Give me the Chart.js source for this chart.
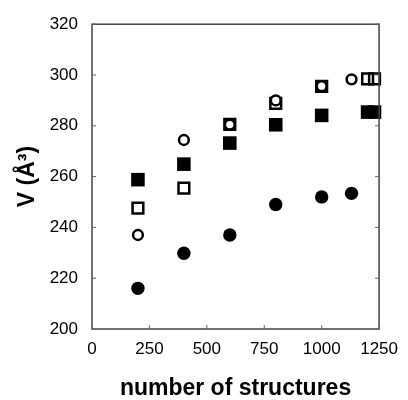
<!DOCTYPE html>
<html>
<head>
<meta charset="utf-8">
<script src="https://cdn.jsdelivr.net/npm/chart.js@4"></script>
<style>
  html, body { margin: 0; padding: 0; background: #fff; }
  #wrap { width: 408px; height: 400px; }
</style>
</head>
<body>
<div id="wrap"><canvas id="my-chart"></canvas></div>
<script>
// values
const filledCircleX = [200, 400, 600, 800, 1000, 1130]
const filledCircleY = [216, 229.8, 237, 249, 252, 253.4]

const openCircleX = [200, 400, 600, 800, 1000, 1130]
const openCircleY = [237, 274.4, 280.5, 290, 295.6, 298.3]

const filledSquareX = [200, 400, 600, 800, 1000, 1200, 1230]
const filledSquareY = [258.8, 264.9, 273.2, 280.4, 284.1, 285.4, 285.4]

const openSquareX = [200, 400, 600, 800, 1000, 1200, 1230]
const openSquareY = [247.6, 255.5, 280.6, 288.8, 295.5, 298.5, 298.5]

const xTicks = [0, 250, 500, 750, 1000, 1250]
const yTicks = [200, 220, 240, 260, 280, 300, 320]

const toPoints = (xs, ys) => xs.map((x, i) => ({ x: x, y: ys[i] }))

// box round the plot plus small inward ticks
const frame = {
  id: 'frame',
  afterDraw(chart) {
    const { ctx, chartArea: a, scales } = chart
    ctx.save()
    ctx.strokeStyle = '#444'
    ctx.lineWidth = 1.5
    ctx.strokeRect(a.left, a.top, a.right - a.left, a.bottom - a.top)
    ctx.lineWidth = 1
    ctx.strokeStyle = '#666'
    ctx.beginPath()
    yTicks.forEach(v => {
      const y = scales.y.getPixelForValue(v)
      ctx.moveTo(a.left, y); ctx.lineTo(a.left + 4, y)
      ctx.moveTo(a.right, y); ctx.lineTo(a.right - 4, y)
    })
    xTicks.forEach(v => {
      const x = scales.x.getPixelForValue(v)
      ctx.moveTo(x, a.bottom); ctx.lineTo(x, a.bottom - 4)
    })
    ctx.stroke()
    ctx.restore()
  }
}

const data = {
  datasets: [{
    label: 'filled circles',
    data: toPoints(filledCircleX, filledCircleY),
    pointStyle: 'circle',
    pointRadius: 6.7,
    borderWidth: 0,
    backgroundColor: '#000',
    borderColor: '#000',
  }, {
    label: 'open circles',
    data: toPoints(openCircleX, openCircleY),
    pointStyle: 'circle',
    pointRadius: 4.9,
    borderWidth: 2.5,
    backgroundColor: '#fff',
    borderColor: '#000',
  }, {
    label: 'filled squares',
    data: toPoints(filledSquareX, filledSquareY),
    pointStyle: 'rect',
    pointRadius: 9.6,
    borderWidth: 0,
    backgroundColor: '#000',
    borderColor: '#000',
  }, {
    label: 'open squares',
    data: toPoints(openSquareX, openSquareY),
    pointStyle: 'rect',
    pointRadius: 7.6,
    borderWidth: 2.5,
    backgroundColor: 'rgba(255,255,255,0)',
    borderColor: '#000',
  }]
}

const tickFont = { family: 'Liberation Sans', size: 17 }
const titleFont = { family: 'Liberation Sans', size: 23, weight: 'bold', lineHeight: 1 }

const options = {
  responsive: true,
  maintainAspectRatio: false,
  animation: false,
  layout: { padding: { top: 22, right: 21, left: 0, bottom: 0 } },
  plugins: {
    legend: { display: false },
    tooltip: { enabled: false },
  },
  datasets: { scatter: { clip: false } },
  scales: {
    x: {
      type: 'linear',
      min: 0,
      max: 1250,
      grid: { display: false, drawTicks: false },
      border: { display: false },
      ticks: {
        stepSize: 250,
        color: '#000',
        font: tickFont,
        padding: 10,
        maxRotation: 0,
        callback: (value) => String(value),
      },
      title: {
        display: true,
        text: 'number of structures',
        color: '#000',
        font: titleFont,
        padding: 0,
      },
      afterFit: (scale) => { scale.height = 71 },
    },
    y: {
      type: 'linear',
      min: 200,
      max: 320,
      grid: { display: false, drawTicks: false },
      border: { display: false },
      ticks: {
        stepSize: 20,
        color: '#000',
        font: tickFont,
        padding: 14,
        callback: (value) => String(value),
      },
      title: {
        display: true,
        text: 'V (Å³)',
        color: '#000',
        font: titleFont,
        padding: { top: 16, bottom: 0 },
      },
      afterFit: (scale) => { scale.width = 92 },
    },
  },
}

const myChart = new Chart(document.getElementById('my-chart'), {
  type: 'scatter',
  data: data,
  options: options,
  plugins: [frame],
})
</script>
</body>
</html>
